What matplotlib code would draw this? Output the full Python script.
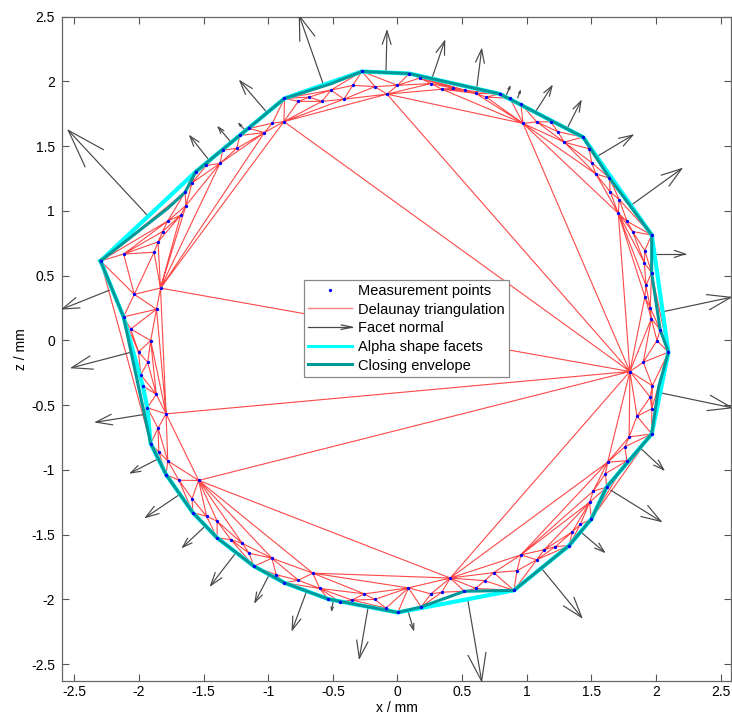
import matplotlib
matplotlib.use("Agg")
import matplotlib.pyplot as plt
import matplotlib.tri as mtri
import numpy as np
from matplotlib.lines import Line2D
from matplotlib.legend_handler import HandlerBase

plt.rcParams['font.family'] = ['Liberation Sans', 'DejaVu Sans']

# ---------------- data ----------------
mx = [-2.297, -2.118, -1.883, -1.852, -1.817, -1.777, -1.678, -1.636, -1.643, -1.589,
      -1.560, -1.479, -1.373, -1.352, -1.244, -1.218, -1.148, -1.029, -0.968, -0.878,
      -0.874, -0.767, -0.682, -0.584, -0.514, -0.414, -0.346, -0.275,
      -1.833, -2.036, -1.864, -2.119, -2.063, -1.909, -2.003, -1.932, -1.986, -1.971,
      -1.866, -1.935, -1.790, -1.852, -1.909, -1.846, -1.777, -1.790, -1.690, -1.538,
      -1.589, -1.583, -1.477, -1.394, -1.396, -1.288, -1.200, -1.148, -0.971, -1.110,
      -0.938, -0.874, -0.766, -0.655, -0.602, -0.534, -0.447, -0.352, -0.257, -0.176,
      -0.089, 0.002, 0.085, 0.183, 0.259, 0.344, 0.408, 0.518, 0.605, 0.675,
      0.744, 0.901, 0.924, 0.955, 1.077, 1.135, 1.222, 1.328, 1.352, 1.414,
      1.500, 1.486, 1.514, 1.618, 1.609, 1.626, 1.775, 1.759, 1.792, 1.967,
      1.853, 1.967, 1.955, 1.972, 1.798, 1.901, 2.096, 2.007, 2.032, 1.964,
      1.955, 1.914, 1.922, 1.966, 1.910, 1.913, 1.966, 1.819, 1.776, 1.708,
      1.715, 1.645, 1.640, 1.535, 1.502, 1.483, 1.436, 1.290, 1.240, 1.186,
      1.077, 0.971, 0.955, 0.870, 0.791, 0.687, 0.605, 0.522, 0.432, 0.344,
      0.259, 0.172, 0.091, 0.000, -0.081, -0.174]
mz = [0.614, 0.667, 0.681, 0.761, 0.841, 0.922, 0.966, 1.042, 1.145, 1.217,
      1.303, 1.351, 1.367, 1.469, 1.483, 1.583, 1.637, 1.605, 1.677, 1.690,
      1.869, 1.846, 1.879, 1.846, 1.933, 1.863, 1.970, 2.077,
      0.404, 0.356, 0.241, 0.182, 0.088, -0.001, -0.089, -0.170, -0.264, -0.350,
      -0.416, -0.520, -0.567, -0.677, -0.796, -0.862, -0.930, -1.036, -1.080, -1.081,
      -1.222, -1.330, -1.357, -1.397, -1.524, -1.539, -1.568, -1.643, -1.682, -1.744,
      -1.809, -1.872, -1.852, -1.797, -1.915, -1.998, -2.018, -2.005, -1.957, -2.000,
      -2.067, -2.101, -1.911, -2.058, -1.957, -1.944, -1.835, -1.937, -1.915, -1.855,
      -1.793, -1.930, -1.779, -1.656, -1.694, -1.616, -1.592, -1.584, -1.479, -1.421,
      -1.379, -1.250, -1.164, -1.133, -1.029, -0.940, -0.929, -0.821, -0.745, -0.722,
      -0.585, -0.528, -0.438, -0.350, -0.240, -0.169, -0.091, -0.001, 0.083, 0.168,
      0.253, 0.336, 0.425, 0.522, 0.599, 0.694, 0.814, 0.841, 0.920, 0.982,
      1.088, 1.148, 1.254, 1.285, 1.373, 1.480, 1.570, 1.531, 1.612, 1.688,
      1.688, 1.676, 1.828, 1.871, 1.904, 1.879, 1.908, 1.931, 1.947, 1.940,
      1.984, 2.026, 2.061, 1.970, 1.902, 1.960]

# facet normals: start point and vector components
nx = [-1.940, -2.231, -1.012, -1.458, -1.295, -1.179, -0.574, -0.089, 0.264, 0.612,
      0.845, 0.930, 1.071, 1.309, 1.548, 1.814, 1.978, 2.046, 2.046, 1.883,
      1.651, 1.427, 1.123, 0.543, 0.084, -0.226, -0.497, -0.708, -0.999, -1.262,
      -1.497, -1.695, -1.862, -1.961, -2.056]
nz = [0.972, 0.387, 1.763, 1.392, 1.539, 1.624, 1.978, 2.080, 2.016, 1.939,
      1.900, 1.875, 1.771, 1.630, 1.423, 1.049, 0.668, 0.220, -0.407, -0.835,
      -1.157, -1.487, -1.771, -1.998, -2.098, -2.054, -2.008, -1.951, -1.822, -1.655,
      -1.443, -1.196, -0.920, -0.572, -0.090]
nu = [-0.606, -0.361, -0.206, -0.147, -0.091, -0.047, -0.185, 0.008, 0.101, 0.039,
      0.025, 0.020, 0.124, 0.110, 0.271, 0.384, 0.246, 0.533, 0.541, 0.176,
      0.387, 0.173, 0.302, 0.108, 0.041, -0.069, -0.012, -0.106, -0.103, -0.183,
      -0.164, -0.252, -0.201, -0.371, -0.464]
nv = [0.650, -0.144, 0.240, 0.186, 0.108, 0.050, 0.528, 0.310, 0.296, 0.309,
      0.060, 0.051, 0.193, 0.218, 0.162, 0.277, 0.000, 0.113, -0.113, -0.163,
      -0.240, -0.147, -0.368, -0.632, -0.137, -0.400, -0.077, -0.284, -0.199, -0.237,
      -0.153, -0.170, -0.103, -0.059, -0.121]

# alpha shape facets (cyan)
ax_x = [-2.297, -1.560, -0.874, -0.275, 0.091, 0.791, 1.436, 1.967, 2.096, 1.967,
        1.618, 1.500, 1.328, 0.901, 0.002, -0.534, -0.874, -1.110, -1.396, -1.583,
        -1.790, -1.909, -1.935, -1.971, -2.119, -2.297]
ax_z = [0.614, 1.303, 1.869, 2.077, 2.061, 1.904, 1.570, 0.814, -0.091, -0.722,
        -1.133, -1.379, -1.584, -1.930, -2.101, -1.998, -1.872, -1.744, -1.524, -1.330,
        -1.036, -0.796, -0.520, -0.350, 0.182, 0.614]

# closing envelope (teal)
ce_x = [-2.297, -1.772, -1.643, -1.560, -0.874, -0.520, -0.275, 0.091, 0.791, 1.436,
        1.640, 1.967, 1.966, 2.032, 2.096, 2.020, 1.967, 1.618, 1.500, 1.328,
        0.901, 0.518, 0.183, 0.002, -0.534, -0.874, -1.110, -1.396, -1.583, -1.790,
        -1.909, -2.119, -2.297]
ce_z = [0.614, 1.024, 1.145, 1.303, 1.869, 1.980, 2.077, 2.061, 1.904, 1.570,
        1.254, 0.814, 0.522, 0.083, -0.091, -0.360, -0.722, -1.133, -1.379, -1.584,
        -1.930, -1.937, -2.058, -2.101, -1.998, -1.872, -1.744, -1.524, -1.330, -1.036,
        -0.796, 0.182, 0.614]

xticks = [-2.5, -2, -1.5, -1, -0.5, 0, 0.5, 1, 1.5, 2, 2.5]
zticks = [-2.5, -2, -1.5, -1, -0.5, 0, 0.5, 1, 1.5, 2, 2.5]
tick_text = ['-2.5', '-2', '-1.5', '-1', '-0.5', '0', '0.5', '1', '1.5', '2', '2.5']

RED = '#ff1a1a'
ARROW = '#474747'
CYAN = '#00ffff'
TEAL = '#009999'

# ---------------- figure ----------------
fig = plt.figure(figsize=(7.32, 7.18), dpi=100)
ax = fig.add_axes([62 / 732, 37 / 718, 669 / 732, 664.3 / 718])

tri = mtri.Triangulation(np.array(mx), np.array(mz))
ax.triplot(tri, color=RED, lw=0.8, alpha=0.8, zorder=2)

# quiver-like arrows (MATLAB style open heads)
alpha_h, beta_h = 0.33, 0.33
for x0, z0, u, v in zip(nx, nz, nu, nv):
    xe, ze = x0 + u, z0 + v
    ax.plot([x0, xe], [z0, ze], color=ARROW, lw=0.85, zorder=3)
    hx = [xe - alpha_h * (u + beta_h * v), xe, xe - alpha_h * (u - beta_h * v)]
    hz = [ze - alpha_h * (v - beta_h * u), ze, ze - alpha_h * (v + beta_h * u)]
    ax.plot(hx, hz, color=ARROW, lw=0.85, zorder=3)

ax.plot(ax_x, ax_z, color=CYAN, lw=3.0, zorder=4, solid_joinstyle='round')
ax.plot(ce_x, ce_z, color=TEAL, lw=2.2, zorder=5, solid_joinstyle='round')
ax.plot(mx, mz, linestyle='none', marker='o', ms=2.4, mfc='#0000ff', mec='none', zorder=6)

ax.set_xlim(-2.595, 2.58)
ax.set_ylim(-2.63, 2.5)
ax.set_xticks(xticks)
ax.set_xticklabels(tick_text)
ax.set_yticks(zticks)
ax.set_yticklabels(tick_text)
ax.tick_params(direction='in', top=True, right=True, length=5, width=0.8,
               labelsize=10, color='#555555')
ax.tick_params(axis='x', pad=3)
ax.tick_params(axis='y', pad=5)
for s in ax.spines.values():
    s.set_color('#666666')
    s.set_linewidth(0.9)
ax.set_xlabel('x / mm', fontsize=10, labelpad=1)
ax.set_ylabel('z / mm', fontsize=10, labelpad=2)


class ArrowHandler(HandlerBase):
    def create_artists(self, legend, orig_handle, xdescent, ydescent, width,
                       height, fontsize, trans):
        y = height / 2.0 - ydescent
        x0 = -xdescent
        x1 = x0 + width
        hl = 0.25 * width
        hw = 0.22 * height
        l1 = Line2D([x0, x1], [y, y], color=ARROW, lw=0.9, transform=trans)
        l2 = Line2D([x1 - hl, x1, x1 - hl], [y + hw, y, y - hw], color=ARROW,
                    lw=0.9, transform=trans)
        return [l1, l2]


h_pts = Line2D([], [], linestyle='none', marker='o', ms=2.4, mfc='#0000ff', mec='none')
h_tri = Line2D([], [], color=RED, lw=1.0, alpha=0.55)
h_arr = Line2D([], [], color=ARROW, lw=0.9)
h_cyan = Line2D([], [], color=CYAN, lw=2.2)
h_teal = Line2D([], [], color=TEAL, lw=2.2)
leg = ax.legend([h_pts, h_tri, h_arr, h_cyan, h_teal],
                ['Measurement points', 'Delaunay triangulation', 'Facet normal',
                 'Alpha shape facets', 'Closing envelope'],
                handler_map={h_arr: ArrowHandler()},
                loc='center', bbox_to_anchor=(0.515, 0.531), fontsize=10.5,
                handlelength=3.0, handletextpad=0.4, labelspacing=0.32,
                borderpad=0.3, fancybox=False, framealpha=1.0, edgecolor='#888888')
leg.get_frame().set_linewidth(0.9)
leg.set_zorder(10)

fig.savefig('out.png', dpi=100)
